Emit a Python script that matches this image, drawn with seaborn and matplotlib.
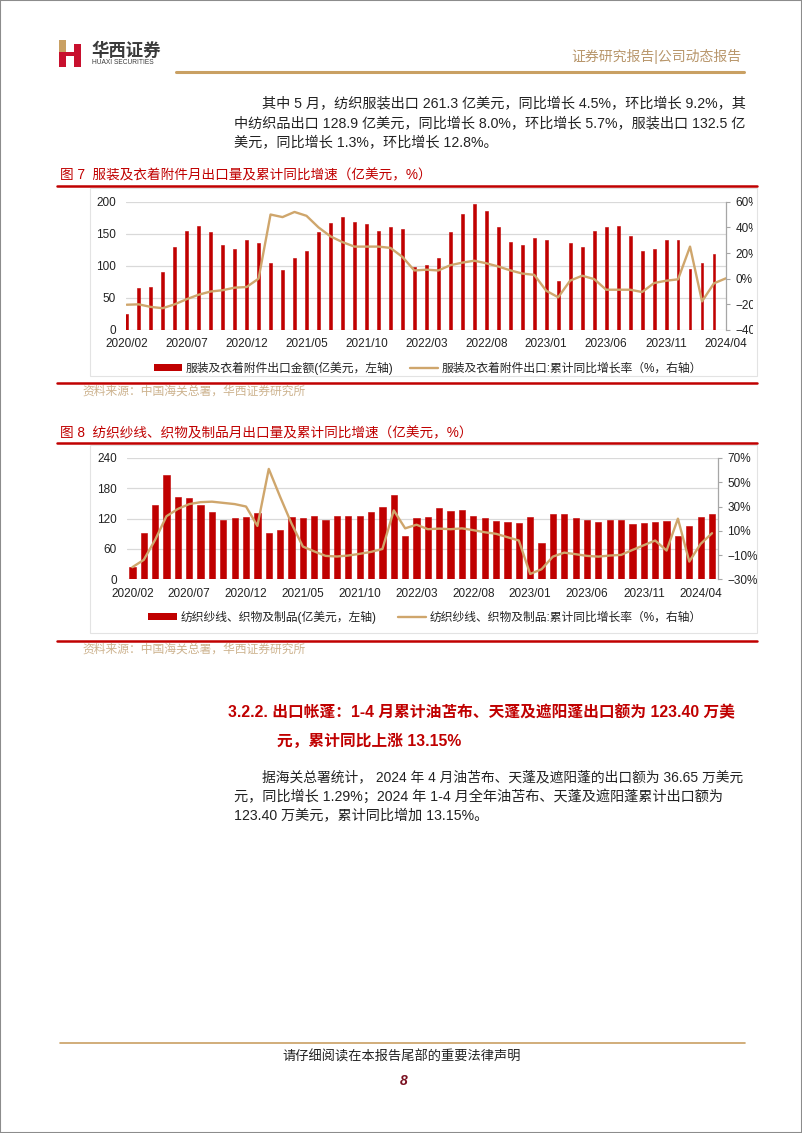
import numpy as np
import pandas as pd
import matplotlib
matplotlib.use('Agg')
import matplotlib.pyplot as plt
from matplotlib.patches import Rectangle, Patch
from matplotlib.lines import Line2D
from matplotlib.transforms import Bbox, TransformedBbox
import seaborn as sns

# ---------------- data ----------------
dates_apparel = pd.date_range('2020-02-01', periods=51, freq='MS').strftime('%Y/%m').tolist()
dates_textile = pd.date_range('2020-02-01', periods=52, freq='MS').strftime('%Y/%m').tolist()

# 图7 服装及衣着附件出口金额(亿美元) / 累计同比(%)
apparel_value = [25, 66, 67, 90, 129, 154, 162, 153, 132, 126,
                 140, 135, 105, 93, 112, 123, 153, 167, 176, 168,
                 165, 154, 160, 158, 98, 102, 113, 153, 181, 196,
                 186, 160, 137, 132, 143, 141, 77, 135, 129, 154,
                 160, 162, 146, 123, 126, 141, 140, 95, 105, 118]
apparel_yoy = [-20.3, -20, -22, -23, -20, -16, -12.5, -10, -9, -7,
               -6.5, 0, 50, 48, 52, 49, 40, 33, 28.5, 25,
               25, 25, 24, 17, 6.4, 7, 6.4, 10.5, 12.5, 14,
               12, 9.5, 6.5, 4, 3, -9.4, -14.5, -1.5, 2.3, -0.3,
               -8.6, -8.6, -8.6, -10.4, -3.4, -1.6, -0.5, 25, -17.7, -3.6,
               0.3]

# 图8 纺织纱线、织物及制品(亿美元) / 累计同比(%)
textile_value = [25, 91, 147, 207, 163, 161, 147, 134, 118, 121,
                 124, 132, 92, 98, 123, 121, 125, 118, 125, 125,
                 125, 134, 143, 167, 85, 121, 123, 141, 135, 137,
                 125, 122, 116, 114, 112, 123, 71, 129, 129, 121,
                 117, 113, 117, 117, 109, 111, 113, 115, 85, 105,
                 123, 129]
textile_yoy = [-20, -14, 2.5, 22, 28, 32, 33.6, 34, 33, 32,
               30, 14, 61, 38, 16, -3, -7, -10.7, -11.2, -10.4,
               -9, -7.4, -5, 26.8, 12, 15, 11.3, 11.8, 11.3, 12,
               10.5, 8.8, 7.5, 4.7, 2, -25.6, -21.7, -11.3, -8, -9.3,
               -10.7, -11.3, -10.4, -9.9, -5.8, -1.9, 2, -6.3, 20, -15.4,
               -0.8, 8]

left_ticks_1 = [0, 50, 100, 150, 200]
right_ticks_1 = [-40, -20, 0, 20, 40, 60]
left_ticks_2 = [0, 60, 120, 180, 240]
right_ticks_2 = [-30, -10, 10, 30, 50, 70]

# ---------------- style ----------------
sns.set_theme(style='white')
plt.rcParams['font.family'] = ['Liberation Sans', 'Noto Sans CJK SC', 'DejaVu Sans']
plt.rcParams['axes.unicode_minus'] = True

RED = '#C00000'
GOLD = '#CFA66C'
TAN = '#B8966B'
SRC = '#CDB38F'
GRID = '#D9D9D9'
TXT = '#222222'

W, H = 802, 1133
fig = plt.figure(figsize=(W / 100, H / 100), dpi=100)


def fx(x):
    return x / W


def fy(y):
    return 1 - y / H


def add_ax(x0, x1, y_top, y_bot):
    return fig.add_axes([fx(x0), fy(y_bot), (x1 - x0) / W, (y_bot - y_top) / H])


def hline(x0, x1, y, color, lw):
    fig.add_artist(Line2D([fx(x0), fx(x1)], [fy(y), fy(y)], color=color, lw=lw))


def ftext(x, y, s, **kw):
    kw.setdefault('va', 'center')
    kw.setdefault('color', TXT)
    fig.text(fx(x), fy(y), s, **kw)


def draw_chart(ax, dates, bars, line, lticks, rticks, xlim, bar_w):
    pos = np.arange(len(dates))
    df_bar = pd.DataFrame({'pos': pos[:len(bars)], 'val': bars})
    df_line = pd.DataFrame({'pos': pos[:len(line)], 'val': line})
    sns.barplot(data=df_bar, x='pos', y='val', native_scale=True, width=bar_w,
                color=RED, saturation=1, errorbar=None, ax=ax, zorder=2,
                edgecolor=RED, linewidth=0.4)
    ax2 = ax.twinx()
    sns.lineplot(data=df_line, x='pos', y='val', color=GOLD, lw=1.7, ax=ax2)

    ax.set_ylim(lticks[0], lticks[-1])
    ax.set_yticks(lticks)
    ax.set_yticklabels([str(t) for t in lticks])
    ax2.set_ylim(rticks[0], rticks[-1])
    ax2.set_yticks(rticks)
    ax2.set_yticklabels([f'{t}%'.replace('-', '\u2212') for t in rticks])

    xt = pos[::5]
    ax.set_xticks(xt)
    ax.set_xticklabels([dates[i] for i in xt])
    ax.set_xlim(*xlim)
    ax2.set_xlim(*xlim)

    for a in (ax, ax2):
        a.set_xlabel('')
        a.set_ylabel('')
        a.set_facecolor('none')
        for s in a.spines.values():
            s.set_visible(False)
        if a.get_legend():
            a.get_legend().remove()
    ax2.spines['right'].set_visible(True)
    ax2.spines['right'].set_color('#A6A6A6')
    ax2.spines['right'].set_linewidth(0.9)

    ax.grid(axis='y', color=GRID, lw=0.9)
    ax.grid(axis='x', visible=False)
    ax2.grid(False)
    ax.tick_params(axis='y', length=0, pad=7, labelsize=8.5, labelcolor=TXT)
    ax.tick_params(axis='x', length=0, pad=6, labelsize=8.5, labelcolor=TXT)
    ax2.tick_params(axis='y', length=3, width=0.8, color='#A6A6A6', pad=4,
                    labelsize=8.5, labelcolor=TXT)
    return ax2


# ---------------- page header ----------------
fig.add_artist(Rectangle((0, 0), 1, 1, transform=fig.transFigure, fill=False,
                         ec='#8C8C8C', lw=1.5))
# logo
fig.add_artist(Rectangle((fx(59), fy(67)), 7 / W, 27 / H, transform=fig.transFigure,
                         fc='#C8102E', ec='none'))
fig.add_artist(Rectangle((fx(59), fy(52)), 7 / W, 12 / H, transform=fig.transFigure,
                         fc='#C9A063', ec='none'))
fig.add_artist(Rectangle((fx(74), fy(67)), 7 / W, 23 / H, transform=fig.transFigure,
                         fc='#C8102E', ec='none'))
fig.add_artist(Rectangle((fx(66), fy(56)), 8 / W, 4 / H, transform=fig.transFigure,
                         fc='#C8102E', ec='none'))
ftext(91, 50, '华西证券', fontsize=12.5, fontweight='bold', color='#3A3A3A')
ftext(92, 63, 'HUAXI SECURITIES', fontsize=4.8, color='#3A3A3A')
ftext(741, 56, '证券研究报告|公司动态报告', fontsize=10, color=TAN, ha='right')
hline(176, 744, 72, '#C9A063', 2.2)

# paragraph
ftext(262, 104, '其中 5 月，纺织服装出口 261.3 亿美元，同比增长 4.5%，环比增长 9.2%，其', fontsize=10.2)
ftext(234, 124, '中纺织品出口 128.9 亿美元，同比增长 8.0%，环比增长 5.7%，服装出口 132.5 亿', fontsize=10.2)
ftext(234, 143, '美元，同比增长 1.3%，环比增长 12.8%。', fontsize=10.2)

# ---------------- figure 7 ----------------
ftext(60, 175, '图 7  服装及衣着附件月出口量及累计同比增速（亿美元，%）', fontsize=9.8, color=RED)
hline(57, 757, 186, RED, 1.8)
fig.add_artist(Rectangle((fx(90), fy(376)), (757 - 90) / W, (376 - 188) / H,
                         transform=fig.transFigure, fill=False, ec='#E3E3E3', lw=0.8))
ax1 = add_ax(125.5, 726, 201.7, 330)
ax1r = draw_chart(ax1, dates_apparel, apparel_value, apparel_yoy, left_ticks_1, right_ticks_1,
                  (-0.1, 50), 0.24)
# right tick labels are cut off at the frame edge in the original
clip = TransformedBbox(Bbox([[0, 0], [fx(753), 1]]), fig.transFigure)
for lbl in ax1r.get_yticklabels():
    lbl.set_clip_box(clip)
    lbl.set_clip_on(True)
fig.legend(handles=[Patch(fc=RED, ec='none'), Line2D([], [], color=GOLD, lw=1.7)],
           labels=['服装及衣着附件出口金额(亿美元，左轴)', '服装及衣着附件出口:累计同比增长率（%，右轴）'],
           loc='center', bbox_to_anchor=(fx(428), fy(368)), ncol=2, frameon=False,
           fontsize=8.5, handlelength=2.4, handleheight=0.55, handletextpad=0.3,
           columnspacing=1.4, labelcolor=TXT)
hline(57, 757, 383, RED, 1.8)
ftext(82, 392, '资料来源：中国海关总署，华西证券研究所', fontsize=8.5, color=SRC)

# ---------------- figure 8 ----------------
ftext(60, 433, '图 8  纺织纱线、织物及制品月出口量及累计同比增速（亿美元，%）', fontsize=9.8, color=RED)
hline(57, 757, 443, RED, 1.8)
fig.add_artist(Rectangle((fx(90), fy(633)), (757 - 90) / W, (633 - 445) / H,
                         transform=fig.transFigure, fill=False, ec='#E3E3E3', lw=0.8))
ax3 = add_ax(126.7, 717.7, 458, 579.3)
draw_chart(ax3, dates_textile, textile_value, textile_yoy, left_ticks_2, right_ticks_2,
           (-0.5, len(dates_textile) - 0.5), 0.55)
fig.legend(handles=[Patch(fc=RED, ec='none'), Line2D([], [], color=GOLD, lw=1.7)],
           labels=['纺织纱线、织物及制品(亿美元，左轴)', '纺织纱线、织物及制品:累计同比增长率（%，右轴）'],
           loc='center', bbox_to_anchor=(fx(425), fy(617)), ncol=2, frameon=False,
           fontsize=8.5, handlelength=2.4, handleheight=0.55, handletextpad=0.3,
           columnspacing=1.8, labelcolor=TXT)
hline(57, 757, 641, RED, 1.8)
ftext(82, 650, '资料来源：中国海关总署，华西证券研究所', fontsize=8.5, color=SRC)

# ---------------- section 3.2.2 ----------------
ftext(228, 713, '3.2.2. 出口帐蓬：1-4 月累计油苫布、天蓬及遮阳蓬出口额为 123.40 万美',
      fontsize=11.3, fontweight='bold', color=RED)
ftext(277, 741, '元，累计同比上涨 13.15%', fontsize=11.3, fontweight='bold', color=RED)
ftext(262, 777, '据海关总署统计， 2024 年 4 月油苫布、天蓬及遮阳蓬的出口额为 36.65 万美元', fontsize=9.9)
ftext(234, 797, '元，同比增长 1.29%；2024 年 1-4 月全年油苫布、天蓬及遮阳蓬累计出口额为', fontsize=10.2)
ftext(234, 816, '123.40 万美元，累计同比增加 13.15%。', fontsize=10.2)

# ---------------- footer ----------------
hline(60, 745, 1043, '#C9A063', 1.2)
ftext(402, 1057, '请仔细阅读在本报告尾部的重要法律声明', fontsize=9.5, ha='center')
ftext(404, 1081, '8', fontsize=10, ha='center', color='#7A1020',
      fontweight='bold', fontstyle='italic')

fig.savefig('out.png', dpi=100, facecolor='white')
